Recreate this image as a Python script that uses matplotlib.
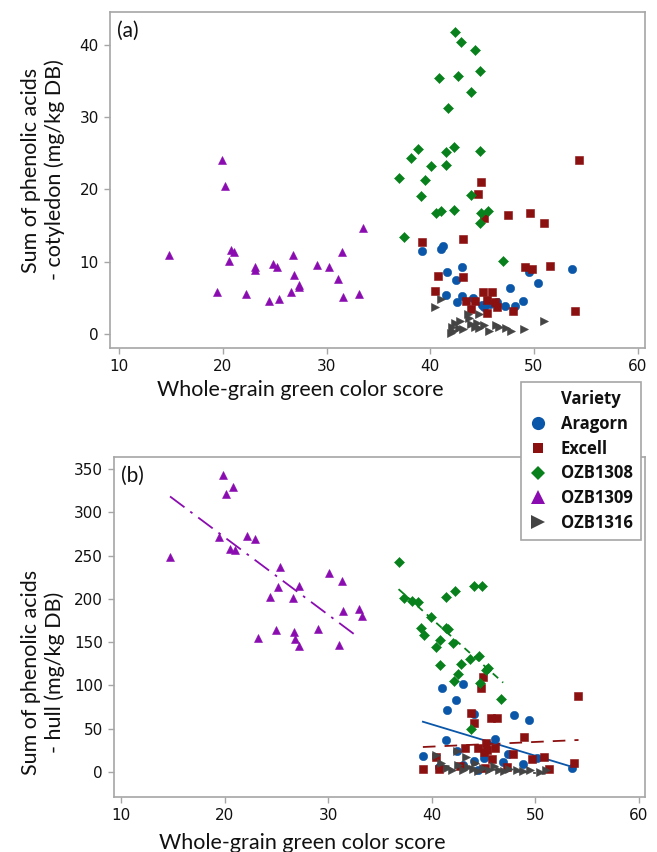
import matplotlib
matplotlib.use("Agg")
import matplotlib.pyplot as plt
from matplotlib.lines import Line2D
from matplotlib.font_manager import FontProperties

# ---------------- data ----------------
varieties = ["Aragorn", "Excell", "OZB1308", "OZB1309", "OZB1316"]
colors = {"Aragorn": "#0a56a8", "Excell": "#8b1010", "OZB1308": "#08801c",
          "OZB1309": "#8a0cb0", "OZB1316": "#444444"}
markers = {"Aragorn": "o", "Excell": "s", "OZB1308": "D", "OZB1309": "^", "OZB1316": ">"}

# panel (a): cotyledon
a_aragorn_x = [39.25, 41.0, 41.24, 53.7, 43.1, 41.6, 49.55, 42.46, 50.4, 47.67, 41.56, 43.1, 44.14,
               48.93, 42.6, 48.2, 47.16, 45.0, 45.42, 46.39, 45.17, 45.8]
a_aragorn_y = [11.5, 11.8, 12.2, 9.0, 9.25, 8.65, 8.65, 7.45, 7.1, 6.4, 5.4, 5.25, 4.97,
               4.6, 4.4, 3.9, 3.9, 4.05, 4.2, 4.5, 3.8, 4.2]
a_excell_x = [54.34, 44.88, 44.65, 45.2, 47.45, 49.64, 50.99, 39.25, 43.2, 40.79, 43.11, 49.12, 49.77,
              51.54, 40.5, 45.07, 46.0, 43.4, 44.27, 45.49, 46.23, 46.42, 43.95, 45.49, 47.96, 53.95]
a_excell_y = [24.0, 21.0, 19.4, 16.1, 16.5, 16.7, 15.4, 12.7, 13.1, 8.1, 7.9, 9.25, 9.0,
              9.4, 6.0, 5.8, 5.8, 4.6, 4.6, 4.7, 4.5, 3.8, 3.45, 3.0, 3.2, 3.2]
a_ozb1308_x = [42.37, 42.98, 44.27, 40.89, 42.66, 44.75, 43.95, 41.73, 38.83, 38.19, 41.53, 42.27, 44.75,
               40.05, 41.53, 36.96, 39.47, 39.08, 43.91, 40.6, 41.01, 42.27, 44.91, 45.59, 44.75, 37.44, 46.97]
a_ozb1308_y = [41.8, 40.3, 39.3, 35.4, 35.6, 36.3, 33.5, 31.3, 25.6, 24.3, 25.1, 25.9, 25.3,
               23.3, 23.4, 21.6, 21.3, 19.1, 19.2, 16.7, 17.0, 17.2, 16.7, 17.0, 15.3, 13.4, 10.1]
a_ozb1309_x = [14.8, 19.9, 20.2, 20.8, 21.1, 20.6, 19.4, 22.2, 23.1, 23.1, 24.5, 24.8, 25.2,
               25.4, 26.8, 26.9, 26.6, 27.3, 27.3, 29.1, 30.2, 31.1, 31.5, 31.6, 33.1, 33.5]
a_ozb1309_y = [11.0, 24.1, 20.5, 11.7, 11.3, 10.1, 5.9, 5.5, 9.3, 8.9, 4.6, 9.7, 9.3,
               4.9, 11.0, 8.2, 5.8, 6.8, 6.5, 9.5, 9.3, 7.6, 11.3, 5.1, 5.5, 14.7]
a_ozb1316_x = [40.5, 41.0, 43.6, 44.7, 42.1, 42.4, 42.9, 42.75, 43.7, 43.9, 44.5, 44.7, 45.2,
               45.7, 46.3, 46.6, 47.3, 49.0, 51.0, 42.2, 43.2, 44.3, 42.0, 47.8]
a_ozb1316_y = [3.8, 4.8, 2.8, 2.8, 1.0, 1.5, 1.8, 0.9, 2.2, 1.4, 1.5, 0.8, 1.3,
               0.5, 1.3, 1.0, 0.9, 0.7, 1.8, 0.5, 0.7, 1.0, 0.2, 0.5]

# panel (b): hull
b_aragorn_x = [41.04, 42.98, 42.3, 41.47, 47.94, 49.35, 44.04, 41.4, 46.07, 39.15, 42.43, 44.04, 45.1,
               46.88, 48.81, 50.16, 53.51, 40.72, 43.07, 47.36, 44.5]
b_aragorn_y = [97.5, 101.4, 83.8, 71.5, 65.4, 60.4, 66.6, 37.1, 38.6, 18.4, 24.9, 13.0, 16.1,
               11.9, 9.5, 16.1, 5.0, 5.4, 8.4, 21.0, 3.0]
b_excell_x = [54.12, 44.95, 44.75, 43.79, 44.11, 45.75, 46.3, 48.9, 45.27, 44.52, 43.24, 46.14, 45.07,
              47.84, 49.68, 50.87, 53.7, 40.43, 45.81, 39.15, 40.75, 42.69, 45.19, 51.32, 47.27, 45.33]
b_excell_y = [87.6, 110.2, 97.5, 67.7, 56.2, 62.0, 62.0, 40.5, 33.3, 28.3, 28.3, 27.5, 23.8,
              21.4, 15.3, 16.9, 10.3, 17.6, 14.9, 3.8, 3.8, 7.2, 4.6, 3.8, 5.4, 25.6]
b_ozb1308_x = [36.86, 37.37, 38.09, 38.67, 41.37, 42.24, 44.08, 44.88, 39.89, 38.92, 39.25, 41.43, 41.57,
               40.85, 42.1, 40.43, 44.59, 43.72, 40.82, 42.82, 45.43, 42.5, 42.2, 44.62, 46.74, 43.75, 45.2]
b_ozb1308_y = [242.1, 200.8, 197.7, 195.9, 202.3, 208.9, 215.0, 214.6, 178.7, 166.0, 158.7, 166.7, 165.3,
               153.0, 149.2, 144.2, 134.6, 130.8, 123.9, 124.3, 120.5, 112.8, 104.8, 102.9, 84.9, 49.3, 118.0]
b_ozb1309_x = [14.73, 19.88, 20.17, 20.85, 19.47, 20.5, 21.01, 22.17, 22.98, 25.33, 25.14, 24.4, 26.59,
               27.23, 23.27, 24.95, 26.69, 26.81, 27.23, 29.03, 30.13, 31.35, 31.45, 31.09, 33.0, 33.31]
b_ozb1309_y = [248.2, 343.1, 321.0, 328.6, 271.6, 257.9, 255.9, 272.8, 269.3, 237.2, 213.8, 202.3, 200.8,
               215.0, 155.3, 164.1, 161.5, 153.8, 145.4, 165.3, 229.5, 220.7, 186.3, 146.5, 188.6, 180.2]
b_ozb1316_x = [40.4, 42.4, 43.3, 40.9, 41.5, 42.0, 42.5, 43.0, 43.5, 44.0, 44.5, 45.0, 45.5,
               46.0, 46.5, 47.0, 47.5, 48.2, 48.8, 49.5, 50.5, 51.0, 44.2]
b_ozb1316_y = [20.0, 24.0, 17.0, 10.0, 5.0, 3.0, 8.0, 2.0, 6.0, 4.0, 1.0, 5.0, 2.0,
               7.0, 3.0, 1.0, 4.0, 2.0, 1.0, 2.0, 0.0, 3.0, 10.0]

# fitted lines in panel (b) (end points)
fit_x = {"Aragorn": [39.15, 53.45], "Excell": [39.15, 54.18], "OZB1308": [36.8, 46.9],
         "OZB1309": [14.73, 33.0], "OZB1316": [40.5, 51.0]}
fit_y = {"Aragorn": [58.2, 6.5], "Excell": [29.0, 37.1], "OZB1308": [211.2, 103.3],
         "OZB1309": [318.2, 154.9], "OZB1316": [8.0, -2.0]}
fit_style = {"Aragorn": "-", "Excell": (0, (7, 5)), "OZB1308": (0, (4, 3)),
             "OZB1309": (0, (10, 4, 1.5, 4)), "OZB1316": (0, (7, 3, 1.5, 3))}

panel_a = {"Aragorn": (a_aragorn_x, a_aragorn_y), "Excell": (a_excell_x, a_excell_y),
           "OZB1308": (a_ozb1308_x, a_ozb1308_y), "OZB1309": (a_ozb1309_x, a_ozb1309_y),
           "OZB1316": (a_ozb1316_x, a_ozb1316_y)}
panel_b = {"Aragorn": (b_aragorn_x, b_aragorn_y), "Excell": (b_excell_x, b_excell_y),
           "OZB1308": (b_ozb1308_x, b_ozb1308_y), "OZB1309": (b_ozb1309_x, b_ozb1309_y),
           "OZB1316": (b_ozb1316_x, b_ozb1316_y)}

x_ticks = [10, 20, 30, 40, 50, 60]
a_yticks = [0, 10, 20, 30, 40]
b_yticks = [0, 50, 100, 150, 200, 250, 300, 350]

# ---------------- figure ----------------
W, H = 657, 852
fig = plt.figure(figsize=(W / 100, H / 100), dpi=100)
ax1 = fig.add_axes([110 / W, 1 - 348 / H, 535 / W, 336 / H])
ax2 = fig.add_axes([114 / W, 1 - 797 / H, 531 / W, 339.7 / H])

msize = {"o": 6.0, "s": 5.6, "D": 4.8, "^": 6.0, ">": 6.0}
spine_col = "#a6a6a6"
label_font = "Lato"

def style(ax, ylim, xlim, yticks):
    ax.set_xlim(*xlim)
    ax.set_ylim(*ylim)
    ax.set_xticks(x_ticks)
    ax.set_yticks(yticks)
    for s in ax.spines.values():
        s.set_color(spine_col)
        s.set_linewidth(1.2)
    ax.tick_params(axis="both", colors=spine_col, labelcolor="#111111", length=4, width=1.0,
                   labelsize=11)
    ax.tick_params(axis="x", pad=4)
    ax.tick_params(axis="y", pad=4)

for ax, data in ((ax1, panel_a), (ax2, panel_b)):
    for v in varieties:
        xs, ys = data[v]
        m = markers[v]
        ax.plot(xs, ys, ls="none", marker=m, color=colors[v], markersize=msize[m],
                markeredgewidth=0.4, markeredgecolor=colors[v], zorder=3)

for v in varieties:
    ax2.plot(fit_x[v], fit_y[v], color=colors[v], lw=1.3, linestyle=fit_style[v], zorder=2)

style(ax1, (-1.9, 44.5), (9.13, 60.7), a_yticks)
style(ax2, (-28.7, 363.4), (9.32, 60.6), b_yticks)

for ax, lab in ((ax1, "(a)"), (ax2, "(b)")):
    ax.text(0.013, 0.945, lab, transform=ax.transAxes, fontsize=15, family=label_font,
            ha="left", va="center", color="#111111")

# axis titles
xl = "Whole-grain green color score"
fig.text(300 / W, 1 - 390 / H, xl, fontsize=15.5, family=label_font, ha="center", va="center",
         color="#111111")
fig.text(302 / W, 1 - 843 / H, xl, fontsize=15.5, family=label_font, ha="center", va="center",
         color="#111111")
fig.text(43 / W, 1 - 170 / H, "Sum of phenolic acids\n- cotyledon (mg/kg DB)", rotation=90,
         fontsize=15.5, family=label_font, ha="center", va="center", multialignment="center",
         linespacing=1.2, color="#111111")
fig.text(43 / W, 1 - 672 / H, "Sum of phenolic acids\n- hull (mg/kg DB)", rotation=90,
         fontsize=15.5, family=label_font, ha="center", va="center", multialignment="center",
         linespacing=1.2, color="#111111")

# legend
leg_ms = {"o": 9.5, "s": 7.5, "D": 7.0, "^": 9.5, ">": 9.5}
handles = [Line2D([], [], ls="none", marker="", label="Variety")]
for v in varieties:
    m = markers[v]
    handles.append(Line2D([], [], ls="none", marker=m, color=colors[v], markersize=leg_ms[m],
                          markeredgewidth=0, label=v))
leg = fig.legend(handles=handles, loc="upper left", bbox_to_anchor=(521 / W, 1 - 382 / H),
                 frameon=True, fancybox=False, edgecolor=spine_col, facecolor="white", framealpha=1,
                 prop=FontProperties(family="Open Sans", weight="bold", size=12),
                 handlelength=1.0, handletextpad=0.9, labelspacing=0.4, borderpad=0.5,
                 borderaxespad=0)
leg.get_frame().set_linewidth(1.2)
for t in leg.get_texts():
    t.set_color("#111111")
leg.set_zorder(10)

fig.savefig("out.png", dpi=100)
